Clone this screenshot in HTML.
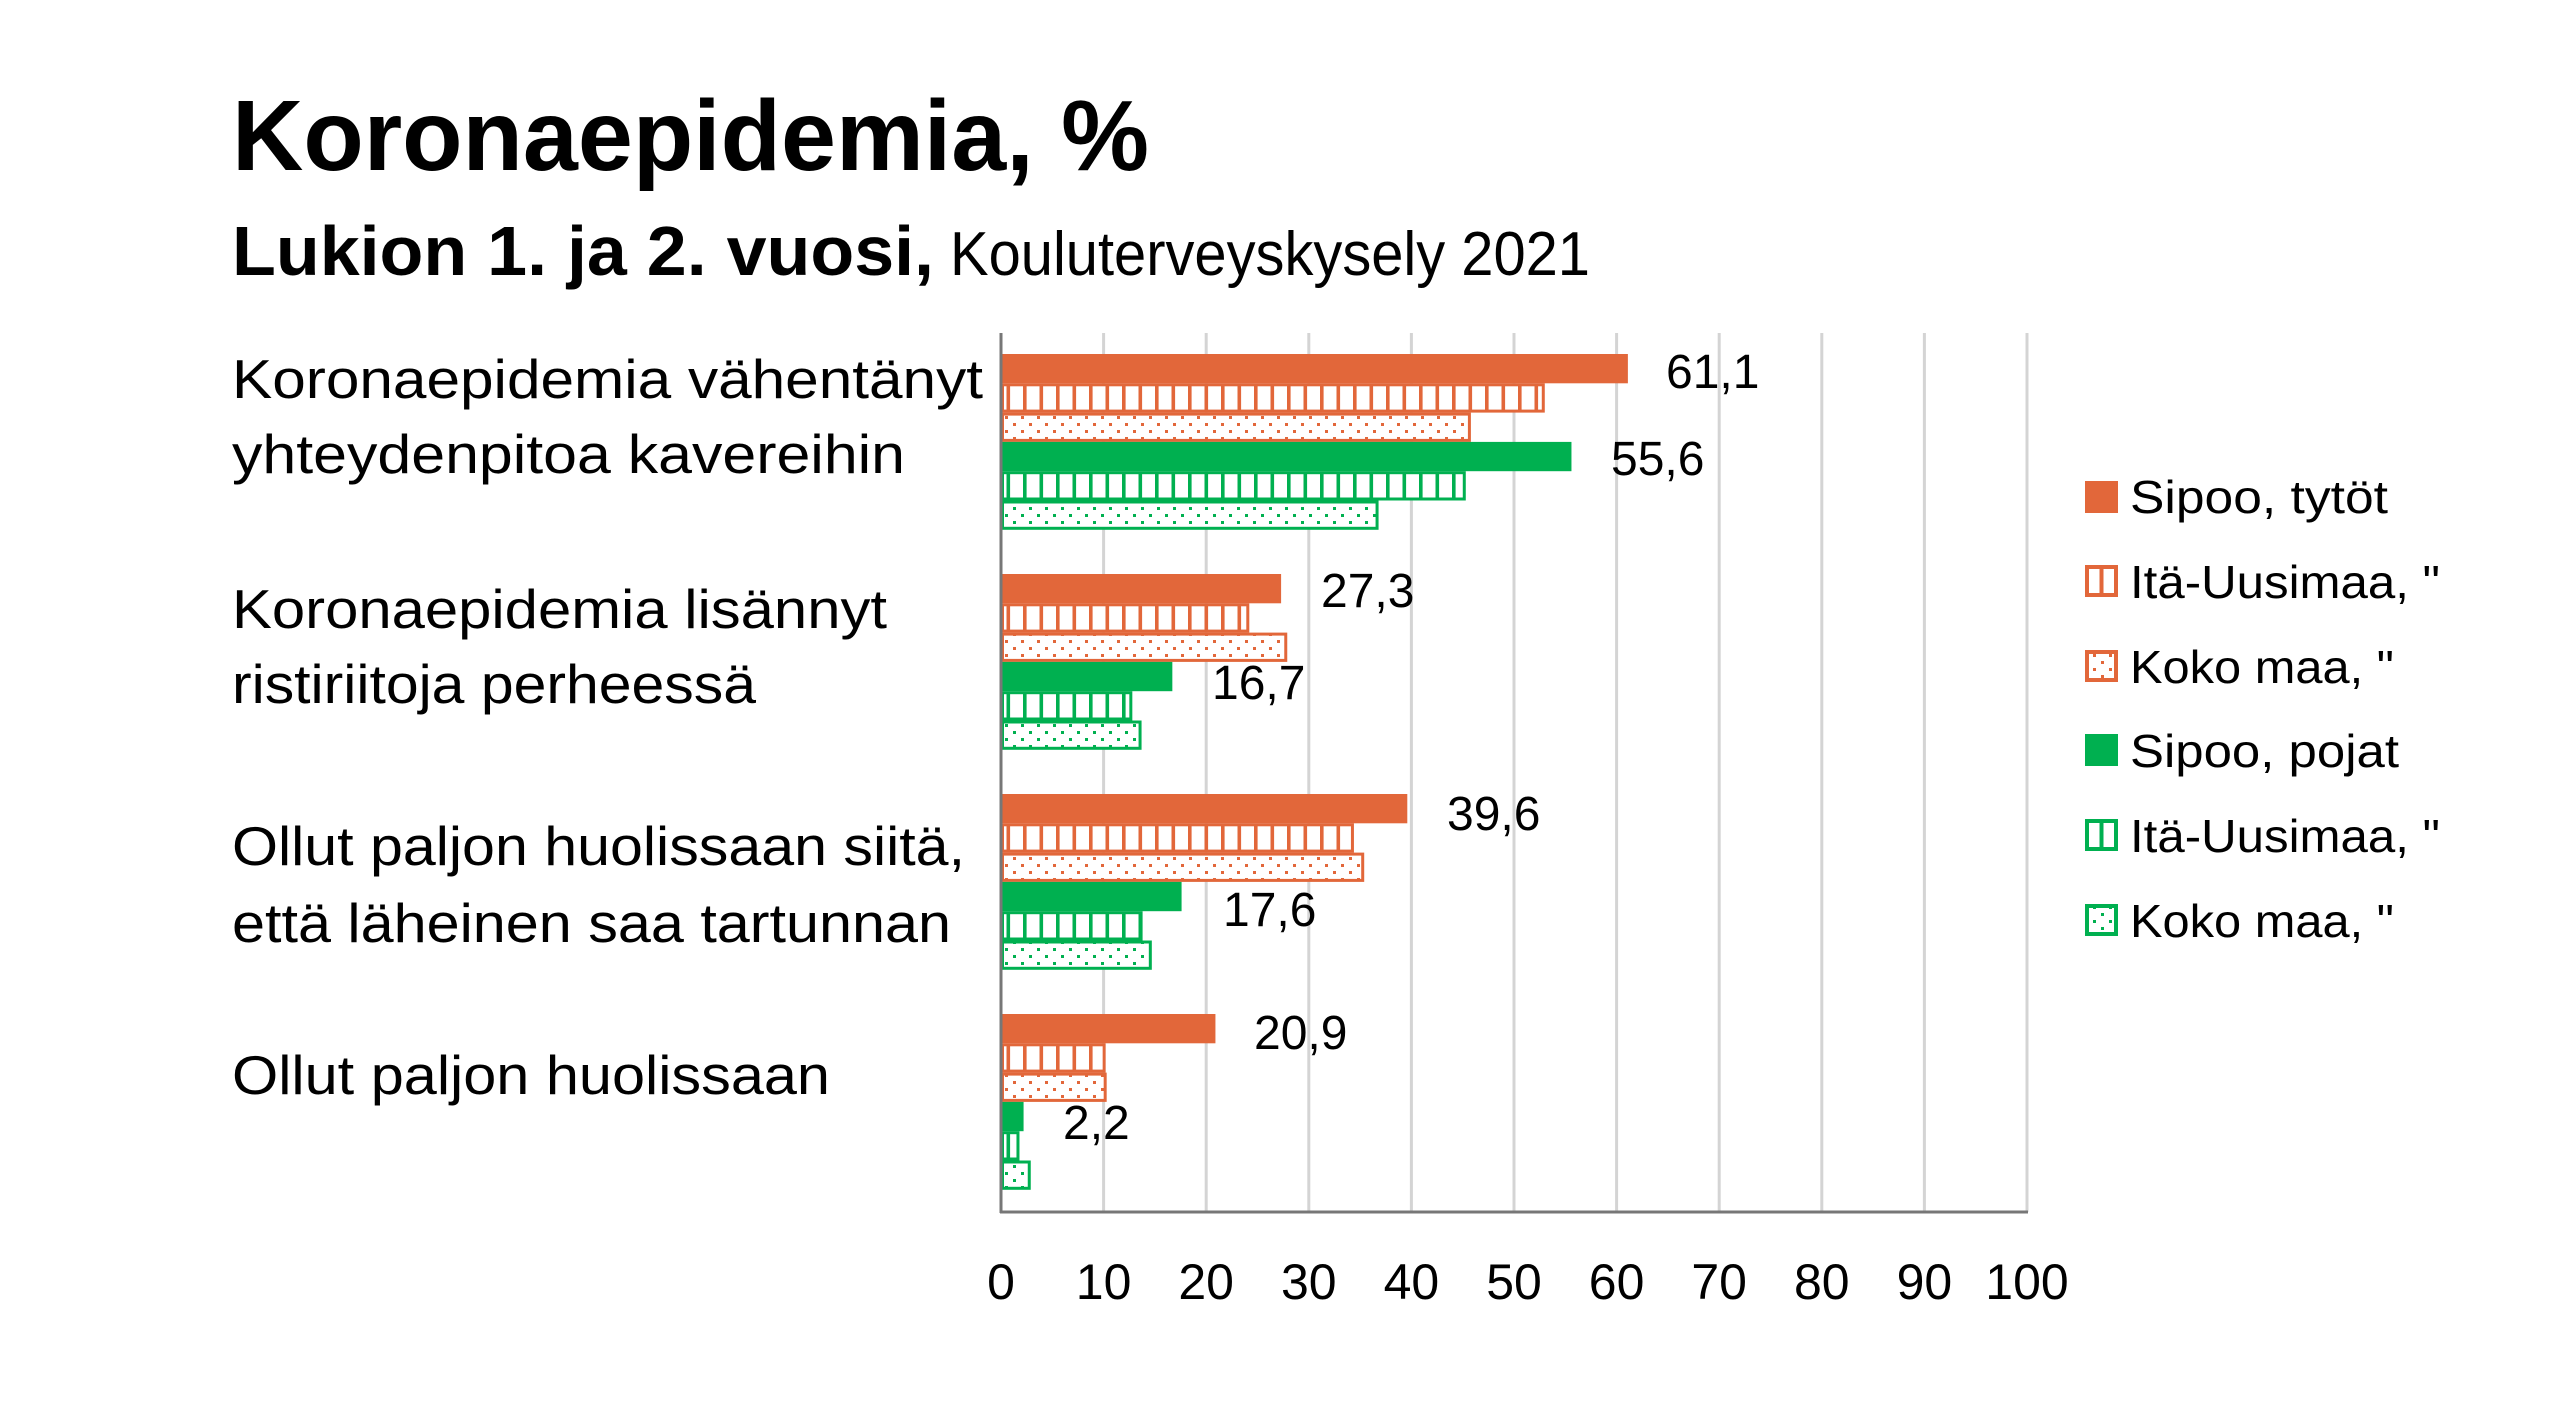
<!DOCTYPE html>
<html><head><meta charset="utf-8"><style>
html,body{margin:0;padding:0;background:#fff;}
svg{display:block;}
text{font-family:"Liberation Sans",sans-serif;fill:#000;}
</style></head><body>
<svg width="2560" height="1408" viewBox="0 0 2560 1408" xmlns="http://www.w3.org/2000/svg">
<defs>
<pattern id="so" width="16.5" height="40" patternUnits="userSpaceOnUse"><rect x="0" y="0" width="3.6" height="40" fill="#E2673A"/></pattern>
<pattern id="sg" width="16.5" height="40" patternUnits="userSpaceOnUse"><rect x="0" y="0" width="3.6" height="40" fill="#00B050"/></pattern>
<pattern id="do" width="16" height="14" patternUnits="userSpaceOnUse"><rect x="5" y="3" width="3" height="3" fill="#E2673A"/><rect x="13" y="10" width="3" height="3" fill="#E2673A"/></pattern>
<pattern id="dg" width="16" height="14" patternUnits="userSpaceOnUse"><rect x="5" y="3" width="3" height="3" fill="#00B050"/><rect x="13" y="10" width="3" height="3" fill="#00B050"/></pattern>
</defs>
<rect width="2560" height="1408" fill="#fff"/>
<text x="232" y="170" font-size="100" font-weight="bold" textLength="917" lengthAdjust="spacingAndGlyphs">Koronaepidemia, %</text>
<text x="232" y="275" font-size="70" font-weight="bold" textLength="702" lengthAdjust="spacingAndGlyphs">Lukion 1. ja 2. vuosi,</text>
<text x="950" y="275" font-size="62" textLength="640" lengthAdjust="spacingAndGlyphs">Kouluterveyskysely 2021</text>
<g font-size="55">
<text x="232" y="398" textLength="751" lengthAdjust="spacingAndGlyphs">Koronaepidemia vähentänyt</text>
<text x="232" y="473" textLength="673" lengthAdjust="spacingAndGlyphs">yhteydenpitoa kavereihin</text>
<text x="232" y="628" textLength="655" lengthAdjust="spacingAndGlyphs">Koronaepidemia lisännyt</text>
<text x="232" y="703" textLength="524" lengthAdjust="spacingAndGlyphs">ristiriitoja perheessä</text>
<text x="232" y="865" textLength="733" lengthAdjust="spacingAndGlyphs">Ollut paljon huolissaan siitä,</text>
<text x="232" y="942" textLength="719" lengthAdjust="spacingAndGlyphs">että läheinen saa tartunnan</text>
<text x="232" y="1094" textLength="598" lengthAdjust="spacingAndGlyphs">Ollut paljon huolissaan</text>
</g>
<g stroke="#d4d4d4" stroke-width="3">
<line x1="1103.6" y1="333" x2="1103.6" y2="1212"/><line x1="1206.2" y1="333" x2="1206.2" y2="1212"/><line x1="1308.8" y1="333" x2="1308.8" y2="1212"/><line x1="1411.4" y1="333" x2="1411.4" y2="1212"/><line x1="1514" y1="333" x2="1514" y2="1212"/><line x1="1616.6" y1="333" x2="1616.6" y2="1212"/><line x1="1719.2" y1="333" x2="1719.2" y2="1212"/><line x1="1821.8" y1="333" x2="1821.8" y2="1212"/><line x1="1924.4" y1="333" x2="1924.4" y2="1212"/><line x1="2027" y1="333" x2="2027" y2="1212"/>
</g>
<g id="bars"></g>
<line x1="1001" y1="333" x2="1001" y2="1213" stroke="#777" stroke-width="3"/>
<line x1="1000" y1="1212" x2="2028" y2="1212" stroke="#777" stroke-width="3"/>
<g font-size="50" text-anchor="middle">
<text x="1001" y="1299">0</text><text x="1103.6" y="1299">10</text><text x="1206.2" y="1299">20</text><text x="1308.8" y="1299">30</text><text x="1411.4" y="1299">40</text><text x="1514" y="1299">50</text><text x="1616.6" y="1299">60</text><text x="1719.2" y="1299">70</text><text x="1821.8" y="1299">80</text><text x="1924.4" y="1299">90</text><text x="2027" y="1299">100</text>
</g>
<g font-size="48">
<text x="1666" y="388">61,1</text><text x="1611" y="475">55,6</text>
<text x="1321" y="607">27,3</text><text x="1212" y="699">16,7</text>
<text x="1447" y="830">39,6</text><text x="1223" y="926">17,6</text>
<text x="1254" y="1049">20,9</text><text x="1063" y="1139">2,2</text>
</g>
<g>
<rect x="2085" y="481" width="33" height="32" fill="#E2673A"/>
<rect x="2087" y="567" width="29" height="28" fill="#fff" stroke="#E2673A" stroke-width="4"/><line x1="2101.5" y1="567" x2="2101.5" y2="595" stroke="#E2673A" stroke-width="4"/>
<rect x="2087" y="652" width="29" height="28" fill="url(#do)" stroke="#E2673A" stroke-width="4"/>
<rect x="2085" y="734" width="33" height="32" fill="#00B050"/>
<rect x="2087" y="821" width="29" height="28" fill="#fff" stroke="#00B050" stroke-width="4"/><line x1="2101.5" y1="821" x2="2101.5" y2="849" stroke="#00B050" stroke-width="4"/>
<rect x="2087" y="906" width="29" height="28" fill="url(#dg)" stroke="#00B050" stroke-width="4"/>
</g>
<g font-size="46">
<text x="2130" y="513" textLength="258" lengthAdjust="spacingAndGlyphs">Sipoo, tytöt</text>
<text x="2130" y="598" textLength="310" lengthAdjust="spacingAndGlyphs">Itä-Uusimaa, "</text>
<text x="2130" y="683" textLength="264" lengthAdjust="spacingAndGlyphs">Koko maa, "</text>
<text x="2130" y="767" textLength="269" lengthAdjust="spacingAndGlyphs">Sipoo, pojat</text>
<text x="2130" y="852" textLength="310" lengthAdjust="spacingAndGlyphs">Itä-Uusimaa, "</text>
<text x="2130" y="937" textLength="264" lengthAdjust="spacingAndGlyphs">Koko maa, "</text>
</g>
<script>
(function(){
var g=document.getElementById('bars');var ns='http://www.w3.org/2000/svg';
var data=[[61.1,53.0,45.8,55.6,45.3,36.8],[27.3,24.2,27.9,16.7,12.8,13.7],[39.6,34.4,35.4,17.6,13.8,14.7],[20.9,10.2,10.3,2.2,1.8,2.9]];
var tops=[354,574,794,1014];var h=29.3;
var fills=['#E2673A','url(#so)','url(#do)','#00B050','url(#sg)','url(#dg)'];
var strokes=['none','#E2673A','#E2673A','none','#00B050','#00B050'];
for(var i=0;i<4;i++)for(var j=0;j<6;j++){
 var w=data[i][j]*10.26;var y=tops[i]+j*h;
 var r=document.createElementNS(ns,'rect');
 var sw=strokes[j]=='none'?0:3;
 r.setAttribute('x',1001+sw/2);r.setAttribute('y',y+sw/2);
 r.setAttribute('width',Math.max(w-sw,1));r.setAttribute('height',h-sw);
 r.setAttribute('fill',strokes[j]=='none'?fills[j]:'#fff');
 if(sw){var b=r.cloneNode();g.appendChild(b);r.setAttribute('fill',fills[j]);r.setAttribute('stroke',strokes[j]);r.setAttribute('stroke-width',sw);}
 g.appendChild(r);
}})();
</script>
</svg>
</body></html>
